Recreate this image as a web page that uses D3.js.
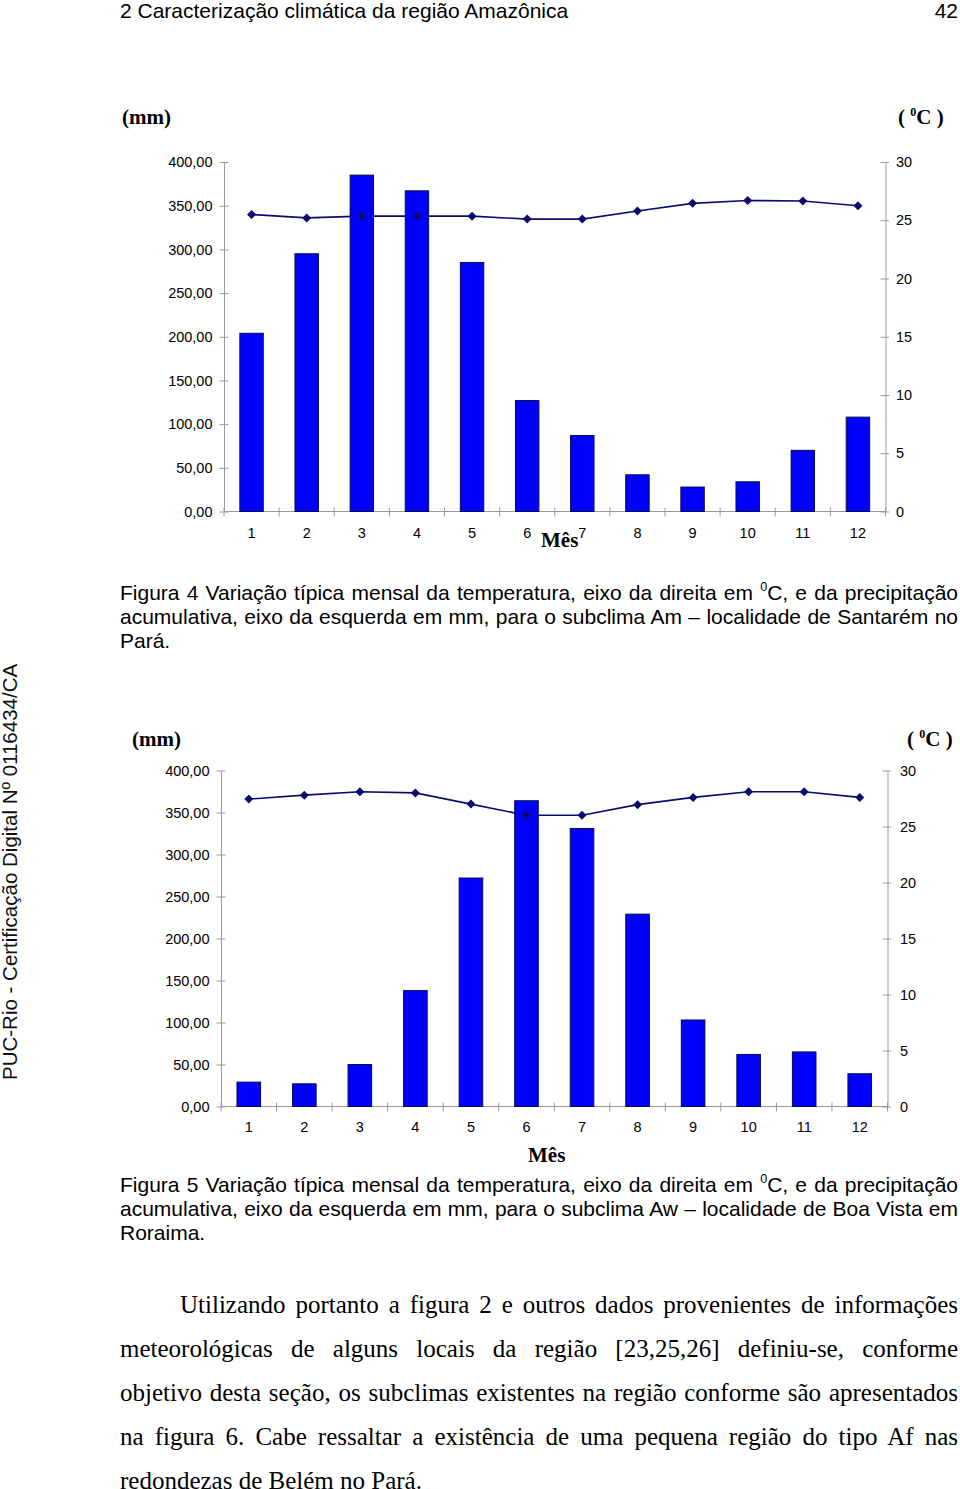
<!DOCTYPE html>
<html>
<head>
<meta charset="utf-8">
<script src="https://cdn.jsdelivr.net/npm/d3@7"></script>
<style>
  html, body { margin: 0; padding: 0; background: #fff; }
  body { width: 960px; height: 1489px; position: relative; overflow: hidden; }
  svg { position: absolute; left: 0; top: 0; }
  .line { position: absolute; white-space: nowrap; color: #000; }
  .sans { font-family: "Liberation Sans", Arial, sans-serif; font-size: 21px; line-height: 24px; }
  .serif { font-family: "Liberation Serif", "Times New Roman", serif; font-size: 25px; line-height: 20px; }
  .just { text-align: justify; text-align-last: justify; }
  sup { font-size: 0.6em; line-height: 0; vertical-align: 0.75em; }
</style>
</head>
<body>
<svg id="chart" width="960" height="1489"></svg>
<script>
// ---------- Data ----------
const months = [1, 2, 3, 4, 5, 6, 7, 8, 9, 10, 11, 12];
const precipSantarem = [204, 295, 385, 367, 285, 127, 87, 42, 28, 34, 70, 108];
const tempSantarem = [25.5, 25.2, 25.35, 25.35, 25.35, 25.1, 25.1, 25.8, 26.45, 26.7, 26.65, 26.25];
const precipBoaVista = [29, 27, 50, 138, 272, 364, 331, 229, 103, 62, 65, 39];
const tempBoaVista = [27.45, 27.8, 28.1, 28.0, 27.0, 26.0, 26.0, 26.95, 27.6, 28.1, 28.1, 27.6];
const leftTicks = [0, 50, 100, 150, 200, 250, 300, 350, 400];
const rightTicks = [0, 5, 10, 15, 20, 25, 30];
const leftLabel = "(mm)";
const xLabel = "Mês";

const svg = d3.select("#chart");
const fmtLeft = d => d3.format(".2f")(d).replace(".", ",");

function drawChart(cfg) {
  const g = svg.append("g");
  const x = d3.scaleBand().domain(months).range([cfg.left, cfg.right]).padding(0);
  const yL = d3.scaleLinear().domain([0, 400]).range([cfg.bottom, cfg.top]);
  const yR = d3.scaleLinear().domain([0, 30]).range([cfg.bottom, cfg.top]);
  const axisColor = "#9a9a9a";
  const tickFont = "'Liberation Sans', Arial, sans-serif";

  // left axis
  const la = g.append("g").attr("transform", `translate(${cfg.left},0)`)
    .call(d3.axisLeft(yL).tickValues(leftTicks).tickFormat(fmtLeft).tickSizeInner(4.5).tickSizeOuter(0).tickPadding(cfg.leftPad));
  la.select(".domain").attr("stroke", axisColor);
  la.selectAll(".tick line").attr("stroke", axisColor).attr("x2", -4.5).attr("x1", 4.5);
  la.selectAll(".tick text").attr("font-family", tickFont).attr("font-size", 14.5).attr("fill", "#000");

  // right axis
  const ra = g.append("g").attr("transform", `translate(${cfg.right},0)`)
    .call(d3.axisRight(yR).tickValues(rightTicks).tickSizeInner(3.5).tickSizeOuter(0).tickPadding(cfg.rightPad));
  ra.select(".domain").attr("stroke", axisColor);
  ra.selectAll(".tick line").attr("stroke", axisColor).attr("x1", -5).attr("x2", 3.5);
  ra.selectAll(".tick text").attr("font-family", tickFont).attr("font-size", 14.5).attr("fill", "#000");

  // bottom axis: line + boundary ticks
  g.append("line").attr("x1", cfg.left).attr("x2", cfg.right)
    .attr("y1", cfg.bottom).attr("y2", cfg.bottom).attr("stroke", axisColor);
  const bounds = months.map(m => x(m)).concat([cfg.right]);
  g.selectAll(".xb").data(bounds).join("line")
    .attr("x1", d => d).attr("x2", d => d)
    .attr("y1", cfg.bottom - 4).attr("y2", cfg.bottom + 5).attr("stroke", axisColor);
  g.selectAll(".xl").data(months).join("text")
    .attr("x", d => x(d) + x.bandwidth() / 2).attr("y", cfg.xLabelY)
    .attr("text-anchor", "middle").attr("font-family", tickFont).attr("font-size", 14.5)
    .text(d => d);

  // temperature line (behind bars)
  const pts = months.map((m, i) => [x(m) + x.bandwidth() / 2, yR(cfg.temp[i])]);
  g.append("path").attr("d", d3.line()(pts)).attr("fill", "none")
    .attr("stroke", "#0b0b6e").attr("stroke-width", 1.6);

  // bars
  const bw = x.bandwidth() * 0.425;
  g.selectAll(".bar").data(cfg.precip).join("rect")
    .attr("x", (d, i) => x(months[i]) + x.bandwidth() / 2 - bw / 2)
    .attr("y", d => yL(d))
    .attr("width", bw)
    .attr("height", d => yL(0) - yL(d))
    .attr("fill", "#0000ff").attr("stroke", "#0a0a50").attr("stroke-width", 1);

  // markers
  g.selectAll(".mk").data(pts).join("path")
    .attr("transform", d => `translate(${d[0]},${d[1]})`)
    .attr("d", "M0,-4.5L4.5,0L0,4.5L-4.5,0Z")
    .attr("fill", "#0b0b6e");

  // axis titles
  g.append("text").attr("x", cfg.mmX).attr("y", cfg.mmY)
    .attr("font-family", "'Liberation Serif', 'Times New Roman', serif").attr("font-weight", "bold")
    .attr("font-size", 21).text(leftLabel);
  const ct = g.append("text").attr("x", cfg.cX).attr("y", cfg.mmY)
    .attr("font-family", "'Liberation Serif', 'Times New Roman', serif").attr("font-weight", "bold")
    .attr("font-size", 21);
  ct.append("tspan").text("( ");
  ct.append("tspan").attr("font-size", 12).attr("dy", -8).text("0");
  ct.append("tspan").attr("dy", 8).text("C )");
  g.append("text").attr("x", cfg.mesX).attr("y", cfg.mesY)
    .attr("font-family", "'Liberation Serif', 'Times New Roman', serif").attr("font-weight", "bold")
    .attr("font-size", 21).text(xLabel);
}

drawChart({
  left: 224, right: 885.5, top: 162, bottom: 511.5,
  precip: precipSantarem, temp: tempSantarem,
  leftPad: 7, rightPad: 7, xLabelY: 538,
  mmX: 122, mmY: 124, cX: 898, mesX: 541, mesY: 547
});
drawChart({
  left: 221, right: 887.5, top: 770.5, bottom: 1106.5,
  precip: precipBoaVista, temp: tempBoaVista,
  leftPad: 7, rightPad: 9, xLabelY: 1132,
  mmX: 132, mmY: 746, cX: 907, mesX: 528, mesY: 1162
});

// side watermark
svg.append("text")
  .attr("transform", "translate(17,1080) rotate(-90)")
  .attr("font-family", "'Liberation Sans', Arial, sans-serif").attr("font-size", 20.5)
  .attr("fill", "#111")
  .text("PUC-Rio - Certificação Digital Nº 0116434/CA");

// ---------- HTML text ----------
const headerText = "2 Caracterização climática da região Amazônica";
const pageNum = "42";
const caption4 = [
  "Figura 4 Variação típica mensal da temperatura, eixo da direita em <sup>0</sup>C, e da precipitação",
  "acumulativa, eixo da esquerda em mm, para o subclima Am – localidade de Santarém no",
  "Pará."
];
const caption5 = [
  "Figura 5 Variação típica mensal da temperatura, eixo da direita em <sup>0</sup>C, e da precipitação",
  "acumulativa, eixo da esquerda em mm, para o subclima Aw – localidade de Boa Vista em",
  "Roraima."
];
const bodyLines = [
  "Utilizando portanto a figura 2 e outros dados provenientes de informações",
  "meteorológicas de alguns locais da região [23,25,26] definiu-se, conforme",
  "objetivo desta seção, os subclimas existentes na região conforme são apresentados",
  "na figura 6. Cabe ressaltar a existência de uma pequena região do tipo Af nas",
  "redondezas de Belém no Pará."
];

const body = d3.select("body");
function addLine(html, cls, left, top, width, justify) {
  const div = body.append("div").attr("class", "line " + cls + (justify ? " just" : ""))
    .style("left", left + "px").style("top", top + "px")
    .style("width", width + "px");
  const span = div.append("span").html(html);
  // shrink word spacing if natural width overflows
  let w = span.node().getBoundingClientRect().width;
  if (w > width) {
    const words = html.split(" ").length - 1;
    const ws = Math.max(-4, (width - w) / Math.max(1, words) - 0.2);
    div.style("word-spacing", ws + "px");
    w = span.node().getBoundingClientRect().width;
    if (w > width) {
      const fs = parseFloat(getComputedStyle(div.node()).fontSize);
      div.style("font-size", (fs * width / w - 0.1) + "px");
    }
  }
}
addLine(headerText, "sans", 120, -1, 700, false);
body.append("div").attr("class", "line sans").style("left", "858px").style("top", "-1px")
  .style("width", "100px").style("text-align", "right").text(pageNum);

caption4.forEach((t, i) => addLine(t, "sans", 120, 581 + i * 24, 838, i < caption4.length - 1));
caption5.forEach((t, i) => addLine(t, "sans", 120, 1173 + i * 24, 838, i < caption5.length - 1));
bodyLines.forEach((t, i) => addLine(t, "serif", i === 0 ? 180 : 120, 1295 + i * 44, i === 0 ? 778 : 838, i < bodyLines.length - 1));
</script>
</body>
</html>
